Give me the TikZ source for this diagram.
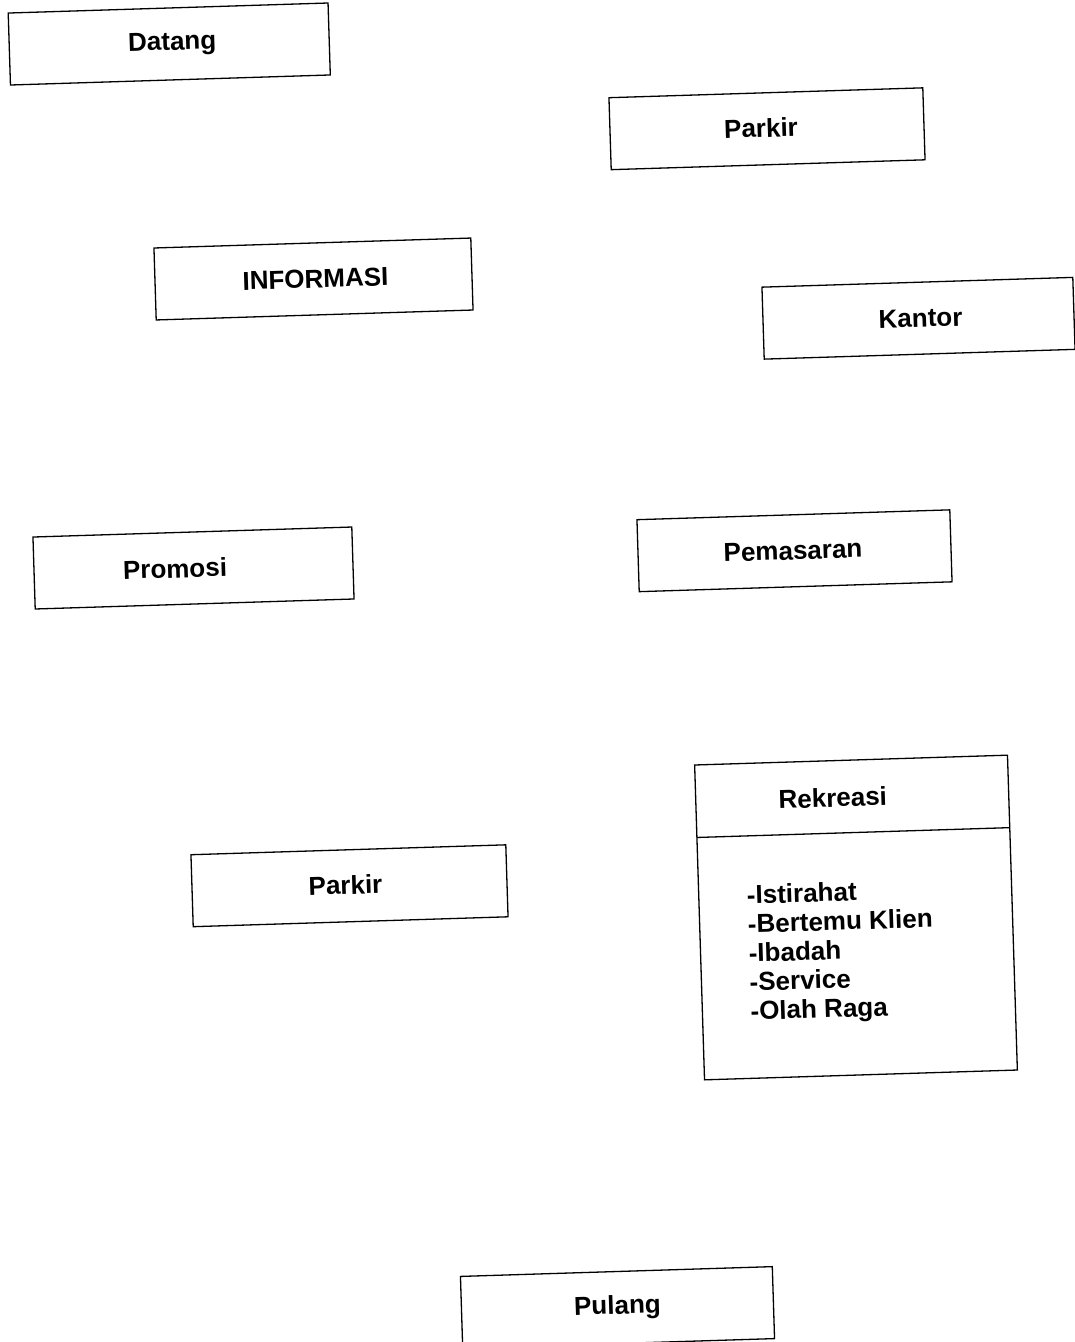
\documentclass[tikz,border=0pt]{standalone}
\usepackage{fontspec}
\setmainfont{Liberation Sans}
\begin{document}
\begin{tikzpicture}[x=1pt, y=1pt,
  stepbox/.style={draw, line width=1.3pt, minimum width=#1, minimum height=72pt, inner sep=0pt},
  boxlabel/.style={font=\bfseries\fontsize{26}{30}\selectfont, inner sep=0pt},
  listtext/.style={font=\bfseries\fontsize{26}{29}\selectfont, align=left, inner sep=0pt},
  tilt/.style={rotate=1.8, transform shape}]
\useasboundingbox (0,0) rectangle (1075,-1342);
\fill[white] (0,0) rectangle (1075,-1342);

% Datang
\begin{scope}[shift={(169.25,-44)}, tilt]
  \node[stepbox=320pt] (datang) {};
  \node[boxlabel] (datangText) at (3,0) {Datang};
\end{scope}

% Parkir (atas)
\begin{scope}[shift={(767,-128.75)}, tilt]
  \node[stepbox=314pt] (parkirA) {};
  \node[boxlabel] (parkirAText) at (-6,1) {Parkir};
\end{scope}

% INFORMASI
\begin{scope}[shift={(313.5,-279)}, tilt]
  \node[stepbox=317pt] (informasi) {};
  \node[boxlabel] (informasiText) at (2,0) {INFORMASI};
\end{scope}

% Kantor
\begin{scope}[shift={(918.5,-318.25)}, tilt]
  \node[stepbox=311pt] (kantor) {};
  \node[boxlabel] (kantorText) at (2,0) {Kantor};
\end{scope}

% Promosi
\begin{scope}[shift={(193.5,-568)}, tilt]
  \node[stepbox=319pt] (promosi) {};
  \node[boxlabel] (promosiText) at (-18.5,0) {Promosi};
\end{scope}

% Pemasaran
\begin{scope}[shift={(794.5,-550.75)}, tilt]
  \node[stepbox=313pt] (pemasaran) {};
  \node[boxlabel] (pemasaranText) at (-1.5,0) {Pemasaran};
\end{scope}

% Parkir (bawah)
\begin{scope}[shift={(349.5,-885.75)}, tilt]
  \node[stepbox=315pt] (parkirB) {};
  \node[boxlabel] (parkirBText) at (-4,1) {Parkir};
\end{scope}

% Rekreasi: judul di atas garis pemisah, kegiatan di bawahnya
\begin{scope}[shift={(856,-917.5)}, tilt]
  \node[draw, line width=1.3pt, minimum width=313pt, minimum height=315pt, inner sep=0pt] (rekreasi) {};
  \coordinate (divL) at (-156.5,85);
  \coordinate (divR) at (156.5,85);
  \draw[line width=1.3pt] (divL) -- (divR);
  \node[boxlabel] (rekTitle) at (-19.5,120.5) {Rekreasi};
  \node[listtext, anchor=west] (rekList) at (-108.5,-34.5)
    {-Istirahat\\-Bertemu Klien\\-Ibadah\\-Service\\-Olah Raga};
\end{scope}

% Pulang
\begin{scope}[shift={(617.5,-1307.5)}, tilt]
  \node[stepbox=312pt] (pulang) {};
  \node[boxlabel] (pulangText) at (0,0) {Pulang};
\end{scope}
\end{tikzpicture}
\end{document}
